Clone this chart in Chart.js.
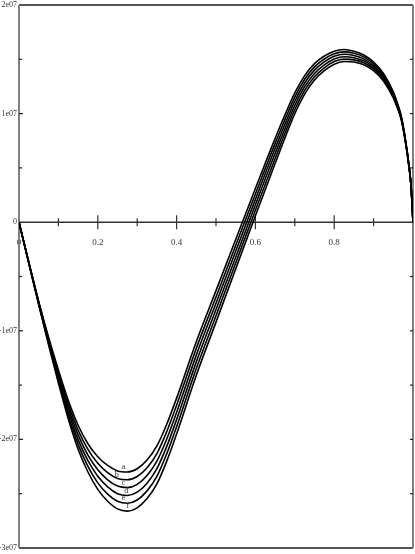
<!DOCTYPE html>
<html><head><meta charset="utf-8">
<script src="https://cdn.jsdelivr.net/npm/chart.js@4/dist/chart.umd.min.js"></script>
<style>html,body{margin:0;padding:0;background:#fff;overflow:hidden}#wrap{width:415px;height:554px}</style>
</head><body><div id="wrap"><canvas id="c" width="415" height="554"></canvas></div>
<script>
// x positions (0..1)
const xs = [0,0.025,0.05,0.075,0.1,0.125,0.15,0.175,0.2,0.225,0.25,0.275,0.3,0.325,0.35,0.375,0.4,0.45,0.5,0.55,0.6,0.65,0.7,0.725,0.75,0.775,0.8,0.825,0.85,0.875,0.9,0.925,0.95,0.96,0.97,0.98,0.99,0.995,1];
// series values, in units of 1e6
const curveA = [0,-3.7,-7.3,-10.6,-13.6,-16.4,-18.7,-20.4,-21.6,-22.4,-22.9,-23.0,-22.7,-21.9,-20.6,-18.6,-16.2,-11.0,-6.3,-1.6,3.1,7.7,11.9,13.5,14.6,15.3,15.75,15.9,15.75,15.4,14.75,13.7,12.0,11.0,9.8,7.8,5.2,3.4,0];
const curveB = [0,-3.72,-7.36,-10.74,-13.84,-16.74,-19.14,-20.92,-22.2,-23.06,-23.6,-23.72,-23.42,-22.61,-21.3,-19.28,-16.86,-11.62,-6.88,-2.14,2.6,7.24,11.52,13.16,14.3,15.03,15.51,15.68,15.55,15.22,14.59,13.56,11.89,10.91,9.73,7.75,5.17,3.38,0];
const curveC = [0,-3.74,-7.42,-10.88,-14.08,-17.08,-19.58,-21.44,-22.8,-23.72,-24.3,-24.44,-24.14,-23.32,-22.0,-19.96,-17.52,-12.24,-7.46,-2.68,2.1,6.78,11.14,12.82,14.0,14.76,15.27,15.46,15.35,15.04,14.43,13.42,11.78,10.82,9.66,7.7,5.14,3.37,0];
const curveD = [0,-3.76,-7.48,-11.02,-14.32,-17.42,-20.02,-21.96,-23.4,-24.38,-25.0,-25.16,-24.86,-24.03,-22.7,-20.64,-18.18,-12.86,-8.04,-3.22,1.6,6.32,10.76,12.48,13.7,14.49,15.03,15.24,15.15,14.86,14.27,13.28,11.67,10.73,9.59,7.65,5.11,3.35,0];
const curveE = [0,-3.78,-7.54,-11.16,-14.56,-17.76,-20.46,-22.48,-24.0,-25.04,-25.7,-25.88,-25.58,-24.74,-23.4,-21.32,-18.84,-13.48,-8.62,-3.76,1.1,5.86,10.38,12.14,13.4,14.22,14.79,15.02,14.95,14.68,14.11,13.14,11.56,10.64,9.52,7.6,5.08,3.34,0];
const curveF = [0,-3.8,-7.6,-11.3,-14.8,-18.1,-20.9,-23.0,-24.6,-25.7,-26.4,-26.6,-26.3,-25.45,-24.1,-22.0,-19.5,-14.1,-9.2,-4.3,0.6,5.4,10.0,11.8,13.1,13.95,14.55,14.8,14.75,14.5,13.95,13.0,11.45,10.55,9.45,7.55,5.05,3.32,0];
const curveNames = ['a','b','c','d','e','f'];
const labelX = [0.265,0.248,0.265,0.272,0.265,0.276];
const yTickValues = [-3e7,-2e7,-1e7,0,1e7,2e7];
const yTickLabels = ['-3e07','-2e07','-1e07','0','1e07','2e07'];
const xTickValues = [0,0.2,0.4,0.6,0.8,1];
const xTickLabels = ['0','0.2','0.4','0.6','0.8',''];
const UNIT = 1e6;

const series = [curveA,curveB,curveC,curveD,curveE,curveF];
const datasets = series.map((s,i)=>({
  label: curveNames[i],
  data: s.map((v,j)=>({x: xs[j], y: v*UNIT})),
  borderColor:'#000', borderWidth:1.6, pointRadius:0, fill:false,
  cubicInterpolationMode:'monotone'
}));

const frame = {
  id:'frame',
  beforeDatasetsDraw(chart){
    const {ctx, chartArea:a, scales:{x,y}} = chart;
    ctx.save();
    const y0 = y.getPixelForValue(0);
    ctx.strokeStyle='#555'; ctx.lineWidth=2;
    ctx.beginPath(); ctx.moveTo(a.left,a.top); ctx.lineTo(a.right,a.top); ctx.stroke();
    ctx.beginPath(); ctx.moveTo(a.left,a.bottom); ctx.lineTo(a.right,a.bottom); ctx.stroke();
    ctx.strokeStyle='#808080';
    ctx.beginPath(); ctx.moveTo(a.left,a.top); ctx.lineTo(a.left,a.bottom); ctx.stroke();
    ctx.beginPath(); ctx.moveTo(a.right,a.top); ctx.lineTo(a.right,a.bottom); ctx.stroke();
    ctx.strokeStyle='#333'; ctx.lineWidth=1.5;
    ctx.beginPath(); ctx.moveTo(a.left,y0); ctx.lineTo(a.right,y0); ctx.stroke();
    ctx.lineWidth=1.2;
    for(let k=1;k<10;k++){
      const px = x.getPixelForValue(k/10);
      const len = (k%2===0)?7:4;
      ctx.beginPath(); ctx.moveTo(px,y0-len); ctx.lineTo(px,y0+len); ctx.stroke();
    }
    ctx.strokeStyle='#222'; ctx.lineWidth=1.2;
    for(let v=-2.5e7; v<=1.5e7; v+=5e6){
      if(Math.abs(v)<1) continue;
      const py = y.getPixelForValue(v);
      const major = Math.abs(v % 1e7) < 1;
      ctx.beginPath(); ctx.moveTo(a.left,py); ctx.lineTo(a.left+(major?4:3),py); ctx.stroke();
      ctx.beginPath(); ctx.moveTo(a.right,py); ctx.lineTo(a.right-3,py); ctx.stroke();
    }
    ctx.restore();
  },
  afterDatasetsDraw(chart){
    const {ctx, scales:{x,y}} = chart;
    ctx.save();
    ctx.fillStyle='#333'; ctx.font='8px "Liberation Serif"';
    ctx.textAlign='center'; ctx.textBaseline='bottom';
    const minIdx = xs.indexOf(0.275);
    series.forEach((s,i)=>{
      const px = x.getPixelForValue(labelX[i]);
      const py = y.getPixelForValue(s[minIdx]*UNIT) - 1;
      ctx.fillText(curveNames[i], px, py);
    });
    ctx.restore();
  }
};

new Chart(document.getElementById('c'), {
  type:'line',
  data:{datasets},
  plugins:[frame],
  options:{
    responsive:false, animation:false, devicePixelRatio:1,
    layout:{padding:{top:5,right:2,bottom:6,left:0}},
    plugins:{legend:{display:false}, tooltip:{enabled:false}},
    scales:{
      x:{type:'linear', min:0, max:1, position:{y:0},
        grid:{display:false, drawTicks:false}, border:{display:false},
        afterBuildTicks(s){ s.ticks = xTickValues.map(v=>({value:v})); },
        afterFit(s){ s.paddingLeft = 0; s.paddingRight = 0; },
        ticks:{padding:15, color:'#333', font:{family:'Liberation Serif', size:9},
          maxRotation:0, autoSkip:false,
          callback:(v)=>{const i=xTickValues.indexOf(v); return i>=0?xTickLabels[i]:'';}}
      },
      y:{type:'linear', min:-3e7, max:2e7, position:'left',
        grid:{display:false, drawTicks:false}, border:{display:false},
        afterBuildTicks(s){ s.ticks = yTickValues.map(v=>({value:v})); },
        afterFit(s){ s.width = 19; s.paddingTop = 0; s.paddingBottom = 0; },
        ticks:{padding:2, color:'#333', font:{family:'Liberation Serif', size:8}, autoSkip:false,
          callback:(v)=>{const i=yTickValues.indexOf(v); return i>=0?yTickLabels[i]:'';}}
      }
    }
  }
});
</script>
</body></html>
